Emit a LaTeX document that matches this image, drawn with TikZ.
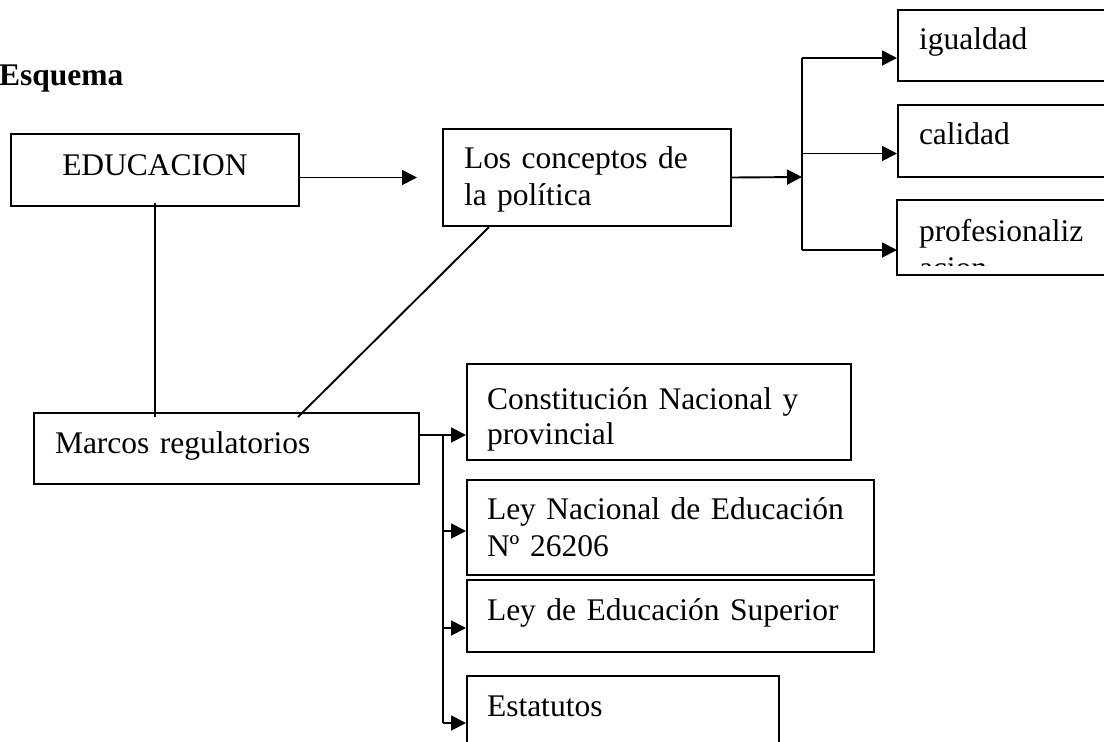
\documentclass[tikz,border=0pt]{standalone}
\usepackage{fontspec}
\setmainfont{Liberation Serif}
\usetikzlibrary{arrows.meta}
\tikzset{
  box/.style={draw, line width=2pt, anchor=north west, inner ysep=0pt, inner xsep=21pt,
    align=left, font=\fontsize{31.5}{37}\selectfont},
  arr/.style={-{Triangle[length=15pt, width=15pt]}, line width=1.9pt},
  ln/.style={line width=1.9pt},
}
\begin{document}
\begin{tikzpicture}[x=1pt, y=-1pt]
  \useasboundingbox (0,0) rectangle (1104,742);
  \clip (0,0) rectangle (1104,742);
  \node[anchor=base west, inner sep=0pt, font=\fontsize{31.5}{37}\selectfont\bfseries] (esq) at (-1,85) {Esquema};
  % upper row
  \node[box, text width=288pt, inner xsep=0pt, align=center, text height=41pt, text depth=31pt] (edu) at (10,133) {EDUCACION};
  \node[box, text width=246pt, text height=39pt, text depth=58pt] (conc) at (442,128) {Los conceptos de\\la política};
  \node[box, text width=186pt, text height=39pt, text depth=32pt] (igu) at (897,9) {igualdad};
  \node[box, text width=186pt, text height=39pt, text depth=33pt] (cal) at (897,104) {calidad};
  \begin{scope}
    \clip (890,200) rectangle (1130,265);
    \node[box, draw=none, text width=186pt, text height=40pt, text depth=33pt] (prof) at (897,200) {profesionaliz\\acion};
  \end{scope}
  \draw[line width=2pt] (prof.north west) rectangle (prof.south east);
  % lower row
  \node[box, text width=343pt, text height=40pt, text depth=31pt] (marc) at (33,412) {Marcos regulatorios};
  \node[box, inner xsep=20pt, text width=344pt, text height=45pt, text depth=51pt] (con) at (466,363) {Constitución Nacional y\\[-2pt]provincial};
  \node[box, inner xsep=20pt, text width=367pt, text height=39pt, text depth=56pt] (ley) at (466,479) {Ley Nacional de Educación\\Nº 26206};
  \node[box, inner xsep=20pt, text width=367pt, text height=40pt, text depth=32pt] (sup) at (466,579) {Ley de Educación Superior};
  \node[box, inner xsep=20pt, text width=272pt, text height=40pt, text depth=55pt] (est) at (466,675) {Estatutos};
  % connectors
  \draw[arr, shorten >=25pt] (edu.east |- conc.west) -- (conc.west);
  \coordinate (fork) at (802,177);
  \draw[arr] (conc.east) -- (fork);
  \foreach \n in {igu,cal,prof} \coordinate (\n-in) at ([yshift=-12.5pt]\n.west);
  \draw[ln] (igu-in -| fork) -- (prof-in -| fork);
  \foreach \n in {igu,cal,prof} \draw[arr] (\n-in -| fork) -- (\n-in);
  \draw[ln] ([yshift=4pt]edu.south) -- ([yshift=-5pt]edu.south |- marc.north);
  \draw[ln] ([xshift=47pt]conc.south west) -- ([xshift=265pt, yshift=-5pt]marc.north west);
  \coordinate (m1) at (443,435);
  \coordinate (m2) at (443,531);
  \coordinate (m3) at (443,628);
  \coordinate (m4) at (443,723);
  \draw[ln] (marc.east |- m1) -- (m1) -- (m4);
  \draw[arr] (m1) -- (m1 -| con.west);
  \draw[arr] (m2) -- (m2 -| ley.west);
  \draw[arr] (m3) -- (m3 -| sup.west);
  \draw[arr] (m4) -- (m4 -| est.west);
\end{tikzpicture}
\end{document}
